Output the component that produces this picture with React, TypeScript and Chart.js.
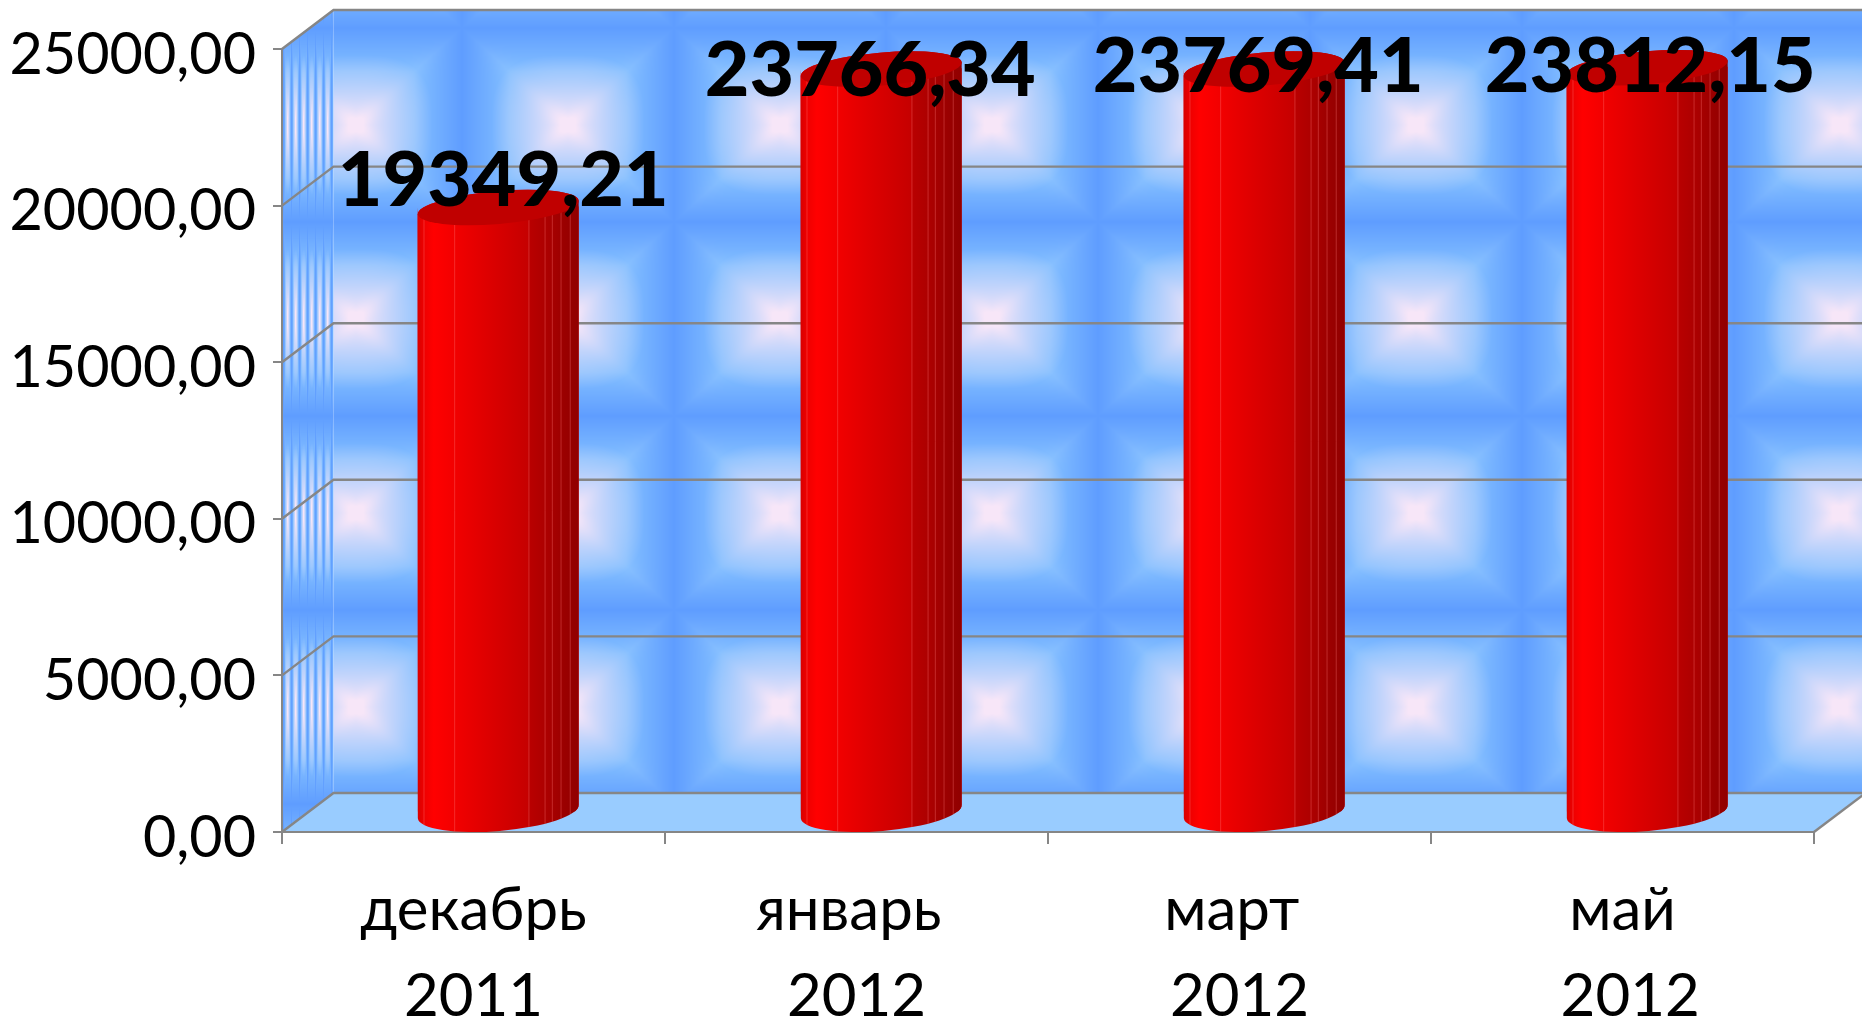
import React, { useEffect, useRef } from "react";
import { Chart, registerables } from "chart.js";

Chart.register(...registerables);

const categories: string[][] = [
  ["декабрь", "2011"],
  ["январь ", "2012"],
  ["март ", "2012"],
  ["май", " 2012"],
];
const values: number[] = [19349.21, 23766.34, 23769.41, 23812.15];
const yMax = 25000;
const yStep = 5000;

const labelNudges: [number, number][] = [[4, -25], [-12, 3], [-7, -1], [2, 0.5]];

const DEPTH_X = 51.5;
const DEPTH_Y = 39;
const BAR_DX = DEPTH_X / 2 - 1;
const GREY = "#868686";
const FONT = "Lato, 'Noto Sans', sans-serif";
const TILE_W = 212;
const TILE_H = 194;
const FACETS = [0.04, 0.23, 0.69, 0.79, 0.835, 0.889, 0.946];
const RED_STOPS: [number, string][] = [
  [0, "#d80000"], [0.04, "#ee0000"], [0.1, "#ff0000"], [0.25, "#f00000"],
  [0.45, "#dc0000"], [0.68, "#c60000"], [0.7, "#b80000"], [0.8, "#ac0000"],
  [0.9, "#9c0000"], [1, "#900000"],
];

const fmt = (v: number) => v.toFixed(2).replace(".", ",");

function makeTile(): HTMLCanvasElement {
  const c = document.createElement("canvas");
  c.width = TILE_W;
  c.height = TILE_H;
  const g = c.getContext("2d")!;
  const img = g.createImageData(TILE_W, TILE_H);
  const pale = [247, 230, 248];
  const light = [131, 191, 255];
  const dark = [95, 157, 255];
  for (let y = 0; y < TILE_H; y++) {
    for (let x = 0; x < TILE_W; x++) {
      const u = Math.abs(x + 0.5 - TILE_W / 2) / (TILE_W / 2);
      const v = Math.abs(y + 0.5 - TILE_H / 2) / (TILE_H / 2);
      const m = Math.max(u, v);
      const toDark = Math.max(0, (m - 0.55) / 0.45);
      const r = Math.pow(u ** 3 + v ** 3, 1 / 3);
      const glow = Math.max(0, 1 - r / 0.72);
      const arm = 0.12 * Math.exp(-(((u - v) / 0.15) ** 2)) * Math.max(0, 1 - m / 0.9);
      const p = Math.min(1, glow + arm);
      const o = (y * TILE_W + x) * 4;
      for (let k = 0; k < 3; k++) {
        const base = light[k] + (dark[k] - light[k]) * toDark;
        img.data[o + k] = base + (pale[k] - base) * p;
      }
      img.data[o + 3] = 255;
    }
  }
  g.putImageData(img, 0, 0);
  return c;
}

const wallPlugin = {
  id: "wall",
  beforeDraw(chart: any) {
    const { ctx, chartArea: a, scales, width } = chart;
    const y = scales.y;
    const top = y.getPixelForValue(yMax);
    const bot = y.getPixelForValue(0);
    const tile = makeTile();
    ctx.save();
    // back wall
    const back = ctx.createPattern(tile, "repeat");
    back.setTransform(new DOMMatrix([1, 0, 0, 1, 250, 28]));
    ctx.fillStyle = back;
    ctx.fillRect(a.left + DEPTH_X, top - DEPTH_Y, width - a.left - DEPTH_X, bot - top);
    // side wall
    const side = ctx.createPattern(tile, "repeat");
    side.setTransform(new DOMMatrix([8 / TILE_W, 0, 0, 1, 283.7, 28]));
    ctx.fillStyle = side;
    ctx.beginPath();
    ctx.moveTo(a.left, top);
    ctx.lineTo(a.left + DEPTH_X, top - DEPTH_Y);
    ctx.lineTo(a.left + DEPTH_X, bot - DEPTH_Y);
    ctx.lineTo(a.left, bot);
    ctx.closePath();
    ctx.fill();
    // floor
    ctx.fillStyle = "#99ccff";
    ctx.beginPath();
    ctx.moveTo(a.left, bot);
    ctx.lineTo(a.left + DEPTH_X, bot - DEPTH_Y);
    ctx.lineTo(width, bot - DEPTH_Y);
    ctx.lineTo(width, bot - DEPTH_Y + 2);
    ctx.lineTo(a.right, bot);
    ctx.closePath();
    ctx.fill();
    // gridlines, wall and floor edges
    ctx.strokeStyle = GREY;
    ctx.lineWidth = 2.4;
    for (const t of y.ticks) {
      const p = y.getPixelForValue(t.value);
      ctx.beginPath();
      ctx.moveTo(a.left, p);
      ctx.lineTo(a.left + DEPTH_X, p - DEPTH_Y);
      ctx.lineTo(width, p - DEPTH_Y);
      ctx.stroke();
    }
    ctx.beginPath();
    ctx.moveTo(a.right, bot);
    ctx.lineTo(a.right + DEPTH_X, bot - DEPTH_Y);
    ctx.stroke();
    ctx.restore();
  },
};

const TOP_RY = 16.5;
const BOTTOM_RY = 19.5;
const TOP_SHIFT = 1;
const ELLIPSE_ROT = -0.085;

function redGradient(ctx: CanvasRenderingContext2D, left: number, w: number) {
  const g = ctx.createLinearGradient(left, 0, left + w, 0);
  for (const [s, c] of RED_STOPS) g.addColorStop(s, c);
  return g;
}

function silhouette(ctx: CanvasRenderingContext2D, el: any) {
  const rx = el.width / 2;
  ctx.moveTo(el.x - rx, el.y + TOP_SHIFT);
  ctx.ellipse(el.x, el.y + TOP_SHIFT, rx, TOP_RY, ELLIPSE_ROT, Math.PI, 0, false);
  ctx.ellipse(el.x, el.base, rx, BOTTOM_RY, ELLIPSE_ROT, 0, Math.PI, false);
  ctx.closePath();
}

const cylinderPlugin = {
  id: "cylinder",
  beforeDatasetDraw(chart: any, args: any) {
    const { ctx } = chart;
    ctx.save();
    ctx.translate(BAR_DX, -DEPTH_Y / 2);
    ctx.beginPath();
    for (const el of args.meta.data) silhouette(ctx, el);
    ctx.clip();
  },
  afterDatasetDraw(chart: any, args: any) {
    const { ctx } = chart;
    ctx.restore();
    ctx.save();
    ctx.translate(BAR_DX, -DEPTH_Y / 2);
    for (const el of args.meta.data) {
      const left = el.x - el.width / 2;
      ctx.save();
      ctx.beginPath();
      silhouette(ctx, el);
      ctx.fillStyle = redGradient(ctx, left, el.width);
      ctx.fill();
      ctx.clip();
      ctx.strokeStyle = "rgba(255,120,120,0.35)";
      ctx.lineWidth = 1;
      for (const f of FACETS) {
        ctx.beginPath();
        ctx.moveTo(left + f * el.width, el.y - 30);
        ctx.lineTo(left + f * el.width, el.base + 30);
        ctx.stroke();
      }
      ctx.restore();
      ctx.beginPath();
      ctx.ellipse(el.x, el.y + TOP_SHIFT, el.width / 2, TOP_RY, ELLIPSE_ROT, 0, Math.PI * 2);
      ctx.fillStyle = "#c00000";
      ctx.fill();
    }
    ctx.restore();
  },
  afterDatasetsDraw(chart: any) {
    const { ctx } = chart;
    const meta = chart.getDatasetMeta(0);
    ctx.save();
    ctx.font = `900 77px ${FONT}`;
    ctx.fillStyle = "#000000";
    ctx.textAlign = "center";
    ctx.textBaseline = "middle";
    meta.data.forEach((el: any, i: number) => {
      const [dx, dy] = labelNudges[i];
      ctx.fillText(fmt(values[i]), el.x + DEPTH_X / 2 + dx, el.y - DEPTH_Y / 2 + dy);
    });
    ctx.restore();
  },
};

export default function App() {
  const ref = useRef<HTMLCanvasElement>(null);
  useEffect(() => {
    document.body.style.margin = "0";
    const chart = new Chart(ref.current!, {
      type: "bar",
      data: {
        labels: categories,
        datasets: [
          {
            data: values,
            clip: false,
            categoryPercentage: 1,
            barPercentage: 0.4215,
            borderWidth: 0,
            backgroundColor: "#df0000",
          } as any,
        ],
      },
      options: {
        responsive: false,
        animation: false,
        layout: { padding: { top: 49, right: 48, left: 0, bottom: 0 } },
        plugins: { legend: { display: false }, tooltip: { enabled: false } },
        scales: {
          x: {
            afterFit: (s: any) => {
              s.height = 188;
              s.paddingLeft = 0;
              s.paddingRight = 0;
            },
            border: { display: true, color: GREY, width: 2 },
            grid: { offset: true, drawOnChartArea: false, color: GREY, lineWidth: 2, tickLength: 12 },
            ticks: {
              color: "#000",
              padding: 24,
              maxRotation: 0,
              autoSkip: false,
              font: { family: FONT, size: 60, lineHeight: 1.43 },
            },
          },
          y: {
            min: 0,
            max: yMax,
            afterFit: (s: any) => {
              s.width = 282;
              s.paddingTop = 0;
              s.paddingBottom = 0;
            },
            border: { display: true, color: GREY, width: 2 },
            grid: { drawOnChartArea: false, color: GREY, lineWidth: 2, tickLength: 9 },
            ticks: {
              stepSize: yStep,
              color: "#000",
              padding: 17,
              labelOffset: 6,
              font: { family: FONT, size: 57.5 },
              callback: (v: any) => fmt(Number(v)),
            },
          },
        },
      },
      plugins: [wallPlugin, cylinderPlugin],
    } as any);
    return () => chart.destroy();
  }, []);
  return <canvas ref={ref} width={1862} height={1020} style={{ display: "block" }} />;
}
